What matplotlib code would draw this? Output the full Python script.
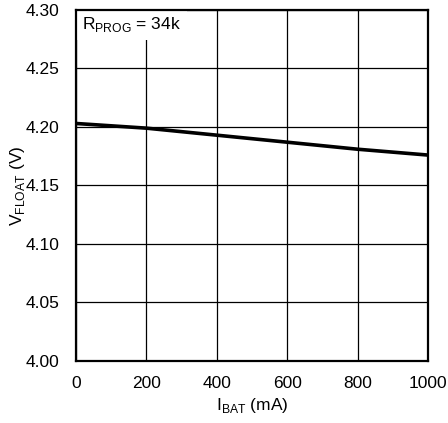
import numpy as np
import matplotlib.pyplot as plt
from matplotlib import font_manager

# pick a condensed face if there is one
names = {f.name for f in font_manager.fontManager.ttflist}
family = 'Liberation Sans Narrow' if 'Liberation Sans Narrow' in names else 'Liberation Sans'
plt.rcParams['font.family'] = [family, 'DejaVu Sans']
plt.rcParams['mathtext.fontset'] = 'custom'
plt.rcParams['mathtext.rm'] = family

# data
i_bat = [0, 200, 400, 600, 800, 1000]
v_float = [4.203, 4.199, 4.193, 4.187, 4.181, 4.176]
x_ticks = [0, 200, 400, 600, 800, 1000]
y_ticks = [4.00, 4.05, 4.10, 4.15, 4.20, 4.25, 4.30]

fs = 12.5

fig = plt.figure(figsize=(4.48, 4.23), dpi=100)
ax = fig.add_axes([0.1696, 0.1466, 0.7857, 0.8298])

ax.plot(i_bat, v_float, color='black', linewidth=2.6, solid_capstyle='butt', zorder=3)

ax.set_xlim(0, 1000)
ax.set_ylim(4.00, 4.30)
ax.set_xticks(x_ticks)
ax.set_yticks(y_ticks)
ax.set_yticklabels(['%.2f' % v for v in y_ticks])
ax.tick_params(length=0, labelsize=fs, pad=11)
ax.tick_params(axis='y', pad=12)
ax.grid(True, color='black', linewidth=0.9)
for s in ax.spines.values():
    s.set_linewidth(1.6)

ax.set_xlabel(r'I$_\mathregular{BAT}$ (mA)', fontsize=fs)
ax.set_ylabel(r'V$_\mathregular{FLOAT}$ (V)', fontsize=fs)
ax.xaxis.set_label_coords(0.5, -0.10)
ax.yaxis.set_label_coords(-0.14, 0.5)

# white box hides the grid but not the frame
ax.text(0.018, 0.985, r'R$_\mathregular{PROG}$ = 34k', transform=ax.transAxes,
        fontsize=fs, va='top', ha='left', zorder=2,
        bbox=dict(facecolor='white', edgecolor='none', pad=4))

fig.savefig('out.png', dpi=100)
